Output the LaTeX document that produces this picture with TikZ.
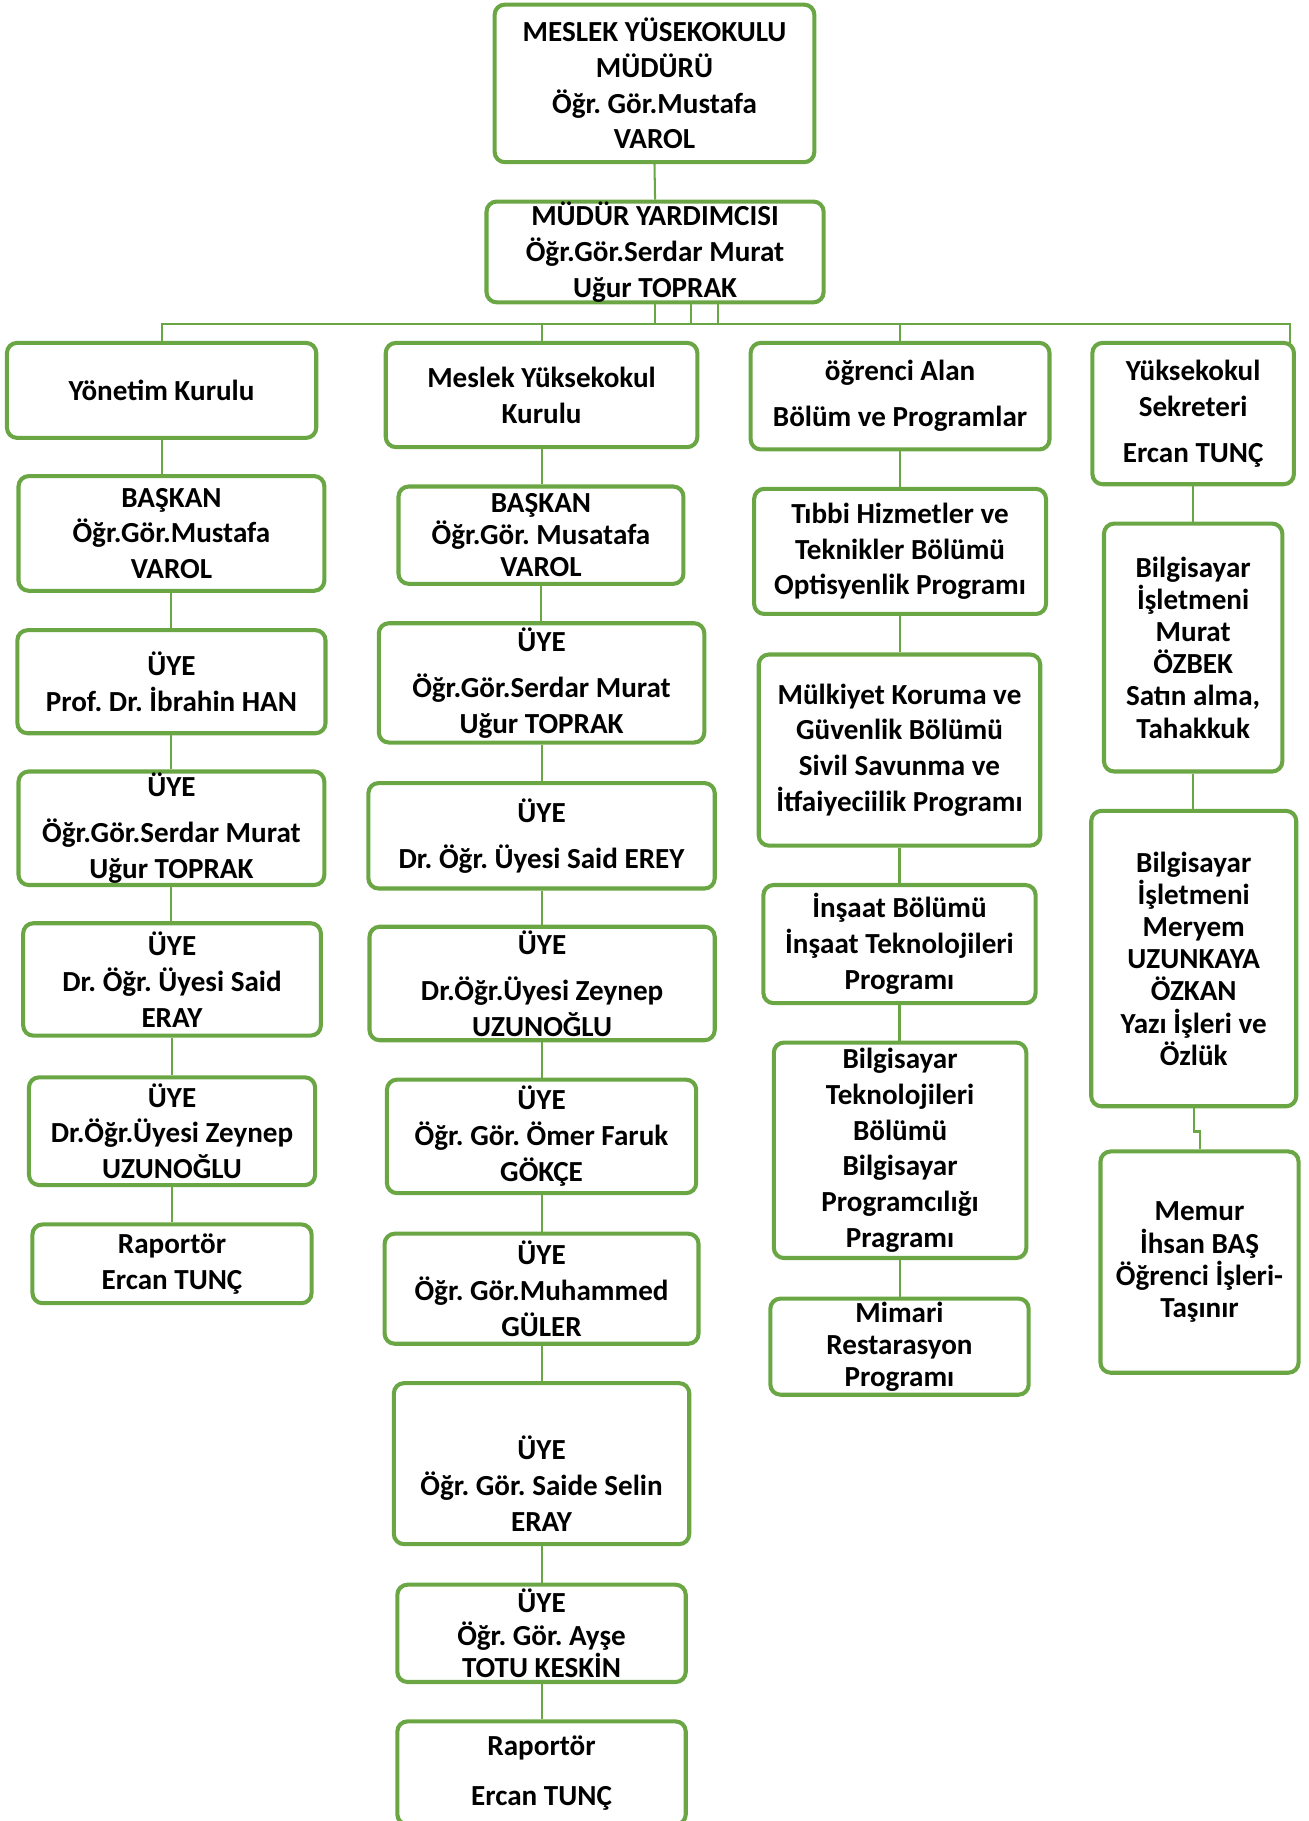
\documentclass[tikz,border=0pt]{standalone}
\usepackage{fontspec}
\setmainfont{Carlito}
\frenchspacing
\definecolor{orggreen}{HTML}{6AA744}
\NewDocumentCommand{\orgbox}{O{}mmmmmm}{%
  \node[orgnode,#1,minimum width={(#5-#3)*0.02cm},minimum height={(#6-#4)*0.02cm}]
    (#2) at ({(#3+#5)/2},{(#4+#6)/2}) {#7};}

\begin{document}
\begin{tikzpicture}[
  x=0.02cm, y=-0.02cm,
  orgnode/.style={draw=orggreen,line width=2pt,rounded corners=5pt,fill=white,
    align=center,inner sep=0pt,font=\bfseries\fontsize{14.3}{17.6}\selectfont},
  tight/.style={font=\bfseries\fontsize{14.3}{15.8}\selectfont},
  link/.style={draw=orggreen,line width=1pt},
]
  \useasboundingbox (0,0) rectangle (1130,1572);
  % top
  \orgbox{mudur}{427}{4}{703}{140}{MESLEK YÜSEKOKULU\\MÜDÜRÜ\\Öğr. Gör.Mustafa\\VAROL}
  \orgbox{yardimci}{420}{174}{711}{261}{MÜDÜR YARDIMCISI\\Öğr.Gör.Serdar Murat\\Uğur TOPRAK}
  % column 1
  \orgbox{yonetim}{6}{296}{273}{378}{Yönetim Kurulu}
  \orgbox{baskanA}{16}{411}{280}{510}{BAŞKAN\\Öğr.Gör.Mustafa\\VAROL}
  \orgbox{uyeAa}{15}{544}{281}{633}{ÜYE\\Prof. Dr. İbrahin HAN}
  \orgbox{uyeAb}{16}{666}{280}{764}{ÜYE\\[5pt]Öğr.Gör.Serdar Murat\\Uğur TOPRAK}
  \orgbox{uyeAc}{20}{797}{277}{894}{ÜYE\\Dr. Öğr. Üyesi Said\\ERAY}
  \orgbox{uyeAd}{25}{930}{272}{1023}{ÜYE\\Dr.Öğr.Üyesi Zeynep\\UZUNOĞLU}
  \orgbox{raporA}{28}{1057}{269}{1125}{Raportör\\Ercan TUNÇ}
  % column 2
  \orgbox{meslek}{333}{296}{602}{386}{Meslek Yüksekokul\\Kurulu}
  \orgbox[tight]{baskanB}{344}{420}{590}{504}{BAŞKAN\\Öğr.Gör. Musatafa\\VAROL}
  \orgbox{uyeBa}{327}{538}{608}{641}{ÜYE\\[5pt]Öğr.Gör.Serdar Murat\\Uğur TOPRAK}
  \orgbox{uyeBb}{318}{676}{617}{767}{ÜYE\\[5pt]Dr. Öğr. Üyesi Said EREY}
  \orgbox{uyeBc}{319}{800}{617}{898}{ÜYE\\[5pt]Dr.Öğr.Üyesi Zeynep\\UZUNOĞLU}
  \orgbox{uyeBd}{334}{932}{601}{1030}{ÜYE\\Öğr. Gör. Ömer Faruk\\GÖKÇE}
  \orgbox{uyeBe}{332}{1065}{603}{1160}{ÜYE\\Öğr. Gör.Muhammed\\GÜLER}
  \orgbox{uyeBf}{340}{1194}{595}{1333}{\mbox{}\\[14pt]ÜYE\\Öğr. Gör. Saide Selin\\ERAY}
  \orgbox[tight]{uyeBg}{343}{1368}{592}{1452}{ÜYE\\Öğr. Gör. Ayşe\\TOTU KESKİN}
  \orgbox{raporB}{343}{1486}{592}{1575}{Raportör\\[7pt]Ercan TUNÇ}
  % column 3
  \orgbox{ogrenci}{648}{296}{906}{388}{öğrenci Alan\\[5pt]Bölüm ve Programlar}
  \orgbox{tibbi}{651}{422}{903}{530}{Tıbbi Hizmetler ve\\Teknikler Bölümü\\Optisyenlik Programı}
  \orgbox{mulkiyet}{655}{565}{898}{730}{Mülkiyet Koruma ve\\Güvenlik Bölümü\\Sivil Savunma ve\\İtfaiyeciilik Programı}
  \orgbox{insaat}{659}{764}{894}{866}{İnşaat Bölümü\\İnşaat Teknolojileri\\Programı}
  \orgbox{bilgisayar}{668}{900}{886}{1086}{Bilgisayar\\Teknolojileri\\Bölümü\\Bilgisayar\\Programcılığı\\Pragramı}
  \orgbox[tight]{mimari}{665}{1121}{888}{1204}{Mimari\\Restarasyon\\Programı}
  % column 4
  \orgbox{sekreter}{943}{296}{1117}{418}{Yüksekokul\\Sekreteri\\[5pt]Ercan TUNÇ}
  \orgbox[tight]{murat}{953}{452}{1107}{666}{Bilgisayar\\İşletmeni\\Murat\\ÖZBEK\\Satın alma,\\Tahakkuk}
  \orgbox[tight]{meryem}{942}{700}{1119}{955}{Bilgisayar\\İşletmeni\\Meryem\\UZUNKAYA\\ÖZKAN\\Yazı İşleri ve\\Özlük}
  \orgbox[tight]{memur}{950}{994}{1121}{1185}{Memur\\İhsan BAŞ\\Öğrenci İşleri-\\Taşınır}

  % connectors
  \coordinate (busL) at (139,280);
  \coordinate (busR) at (1114,280);
  \draw[link] (mudur.south) -- (yardimci.north);
  \foreach \dx in {0,31,54}
    \draw[link] ([xshift=\dx*0.02cm]yardimci.south) -- ([xshift=\dx*0.02cm]yardimci.south |- busL);
  \draw[link] (busL) -- (busR) -- ++(0,18);
  \foreach \top in {yonetim,meslek,ogrenci}
    \draw[link] (\top.north) -- (\top.north |- busL);
  \foreach \a/\b in {yonetim/baskanA,baskanA/uyeAa,uyeAa/uyeAb,uyeAb/uyeAc,uyeAc/uyeAd,uyeAd/raporA,
      meslek/baskanB,baskanB/uyeBa,uyeBa/uyeBb,uyeBb/uyeBc,uyeBc/uyeBd,uyeBd/uyeBe,uyeBe/uyeBf,uyeBf/uyeBg,uyeBg/raporB,
      ogrenci/tibbi,tibbi/mulkiyet,mulkiyet/insaat,insaat/bilgisayar,bilgisayar/mimari,
      sekreter/murat,murat/meryem}
    \draw[link] (\a.south) -- (\a.south |- \b.north);
  \draw[link] (meryem.south) -- ++(0,20) -| (memur.north);
\end{tikzpicture}
\end{document}
